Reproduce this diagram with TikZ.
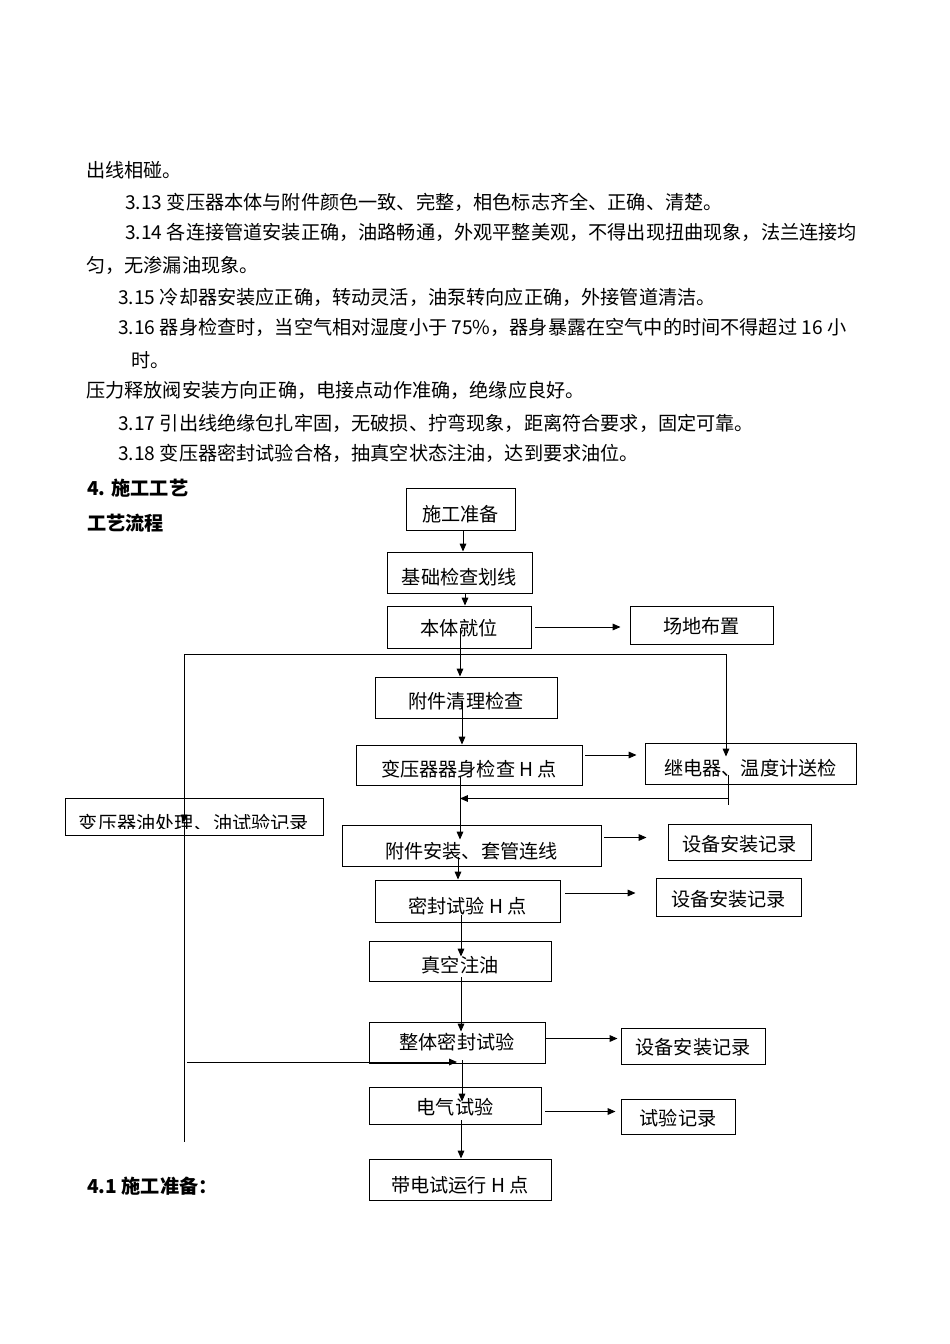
\documentclass[tikz,border=0pt]{standalone}
\usepackage{fontspec}
\setmainfont{Noto Sans CJK SC}
\usetikzlibrary{arrows.meta,fit,calc}
\begin{document}
\begin{tikzpicture}[x=0.626pt,y=-0.626pt,
  box/.style={draw,line width=0.6pt,inner sep=0pt},
  lbl/.style={inner sep=0pt,anchor=base,font=\fontsize{12pt}{14pt}\selectfont},
  para/.style={inner sep=0pt,anchor=base west,font=\fontsize{12pt}{14pt}\selectfont},
  head/.style={inner sep=0pt,anchor=base west,font=\fontsize{12pt}{14pt}\selectfont\bfseries},
  ln/.style={line width=0.6pt},
  arr/.style={line width=0.6pt,-{Triangle[length=5pt,width=4.2pt]}}]
\useasboundingbox (0,0) rectangle (950,1344);

% paragraph text
\node[para] (p1) at (86,177) {出线相碰。};
\node[para] (p2) at (125,209) {3.13 变压器本体与附件颜色一致、完整，相色标志齐全、正确、清楚。};
\node[para] (p3) at (125,239) {3.14 各连接管道安装正确，油路畅通，外观平整美观，不得出现扭曲现象，法兰连接均};
\node[para] (p4) at (86,272) {匀，无渗漏油现象。};
\node[para] (p5) at (118,304) {3.15 冷却器安装应正确，转动灵活，油泵转向应正确，外接管道清洁。};
\node[para] (p6) at (118,334) {3.16 器身检查时，当空气相对湿度小于 75\%，器身暴露在空气中的时间不得超过 16 小};
\node[para] (p7) at (131,367) {时。};
\node[para] (p8) at (86,397) {压力释放阀安装方向正确，电接点动作准确，绝缘应良好。};
\node[para] (p9) at (118,430) {3.17 引出线绝缘包扎牢固，无破损、拧弯现象，距离符合要求，固定可靠。};
\node[para] (p10) at (118,460) {3.18 变压器密封试验合格，抽真空状态注油，达到要求油位。};
\node[head] (h1) at (87,495) {4. 施工工艺};
\node[head] (h2) at (87,530) {工艺流程};
\node[head] (h3) at (87,1193) {4.1 施工准备：};

% boxes
\node[box,fit={(406,488)(515,530)}] (n1) {};
\node[box,fit={(387,552)(532,593)}] (n2) {};
\node[box,fit={(387,606)(531,648)}] (n3) {};
\node[box,fit={(630,606)(773,644)}] (n4) {};
\node[box,fit={(375,677)(557,718)}] (n5) {};
\node[box,fit={(356,745)(582,785)}] (n6) {};
\node[box,fit={(645,743)(856,784)}] (n7) {};
\node[box,fit={(65,798)(323,835)}] (n8) {};
\node[box,fit={(342,825)(601,866)}] (n9) {};
\node[box,fit={(668,824)(811,860)}] (n10) {};
\node[box,fit={(375,880)(560,922)}] (n11) {};
\node[box,fit={(656,878)(801,916)}] (n12) {};
\node[box,fit={(369,941)(551,981)}] (n13) {};
\node[box,fit={(369,1022)(545,1063)}] (n14) {};
\node[box,fit={(621,1028)(765,1064)}] (n15) {};
\node[box,fit={(369,1087)(541,1124)}] (n16) {};
\node[box,fit={(621,1099)(735,1134)}] (n17) {};
\node[box,fit={(369,1159)(551,1200)}] (n18) {};

% box texts (baseline = visual centre + 7)
\node[lbl] (t1) at ($(n1.center |- 0,521)$) {施工准备};
\node[lbl] (t2) at ($(n2.center |- 0,584)$) {基础检查划线};
\node[lbl] (t3) at ($(n3.center |- 0,635)$) {本体就位};
\node[lbl] (t4) at ($(n4.center |- 0,633)$) {场地布置};
\node[lbl] (t5) at ($(n5.center |- 0,708)$) {附件清理检查};
\node[lbl] (t6) at ($(n6.center |- 0,776)$) {变压器器身检查 H 点};
\node[lbl] (t7) at ($(n7.center |- 0,775)$) {继电器、温度计送检};
\begin{scope}
\clip (65,790) rectangle (323,828);
\node[lbl] (t8) at ($(n8.center |- 0,830)$) {变压器油处理、油试验记录};
\end{scope}
\node[lbl] (t9) at ($(n9.center |- 0,858)$) {附件安装、套管连线};
\node[lbl] (t10) at ($(n10.center |- 0,851)$) {设备安装记录};
\node[lbl] (t11) at ($(n11.center |- 0,913)$) {密封试验 H 点};
\node[lbl] (t12) at ($(n12.center |- 0,906)$) {设备安装记录};
\node[lbl] (t13) at ($(n13.center |- 0,972)$) {真空注油};
\node[lbl] (t14) at ($(n14.center |- 0,1049)$) {整体密封试验};
\node[lbl] (t15) at ($(n15.center |- 0,1054)$) {设备安装记录};
\node[lbl] (t16) at ($(n16.center |- 0,1114)$) {电气试验};
\node[lbl] (t17) at ($(n17.center |- 0,1125)$) {试验记录};
\node[lbl] (t18) at ($(n18.center |- 0,1192)$) {带电试运行 H 点};

% axis coordinates
\coordinate (xa) at (463,0);
\coordinate (xb) at (465,0);
\coordinate (xc) at (460,0);
\coordinate (xf) at (462,0);
\coordinate (xk) at (458,0);
\coordinate (xm) at (461,0);
\coordinate (xr) at (726,0);
\coordinate (xh) at (728,0);
\coordinate (lt) at (184,654);
\coordinate (lb) at (184,1142);
\coordinate (lh) at (187,1062);

% connectors
\draw[arr] (n1.south -| xa) -- (n2.north -| xa);
\draw[arr] (n2.south -| xb) -- (n3.north -| xb);
\draw[arr] ($(n3.south -| xc)+(0,-20)$) -- (n5.north -| xc);
\draw[arr] ($(n3.east)+(4,0)$) -- ($(n3.east -| n4.west)+(-9,0)$);
\draw[arr] (lt) -| ($(n7.north -| xr)+(0,14)$);
\draw[arr] (lt) -- ($(lt |- n8.center)+(0,6)$);
\draw[ln] ($(lt |- n8.center)+(0,5)$) -- (lb);
\draw[arr] (lh) -- (lh -| n14.center);
\draw[arr] ($(n5.south -| xf)+(0,-17)$) -- (n6.north -| xf);
\draw[arr] ($(n6.east)+(3,-10)$) -- ($(n6.east -| n7.west)+(-8,-10)$);
\draw[ln] ($(n7.south -| xh)+(0,-9)$) -- ($(n7.south -| xh)+(0,21)$);
\draw[arr] ($(n7.south -| xh)+(0,14)$) -- ($(n7.south -| xc)+(0,14)$);
\draw[arr] ($(n6.south -| xc)+(0,-9)$) -- ($(n9.north -| xc)+(0,15)$);
\draw[arr] ($(n9.east)+(3,-8)$) -- ($(n9.east -| n10.west)+(-21,-8)$);
\draw[arr] ($(n9.south -| xk)+(0,-9)$) -- (n11.north -| xk);
\draw[arr] ($(n11.east)+(5,-8)$) -- ($(n11.east -| n12.west)+(-20,-8)$);
\draw[arr] ($(n11.south -| xm)+(0,-7)$) -- ($(n13.north -| xm)+(0,16)$);
\draw[arr] ($(n13.south -| xm)+(0,-4)$) -- ($(n14.north -| xm)+(0,10)$);
\draw[arr] ($(n14.east)+(1,-4)$) -- ($(n14.east -| n15.west)+(-3,-4)$);
\draw[arr] ($(n14.south -| xf)+(0,-3)$) -- ($(n16.north -| xf)+(0,15)$);
\draw[arr] ($(n16.east)+(4,6)$) -- ($(n16.east -| n17.west)+(-5,6)$);
\draw[arr] ($(n16.south -| xm)+(0,-4)$) -- (n18.north -| xm);
\end{tikzpicture}
\end{document}
